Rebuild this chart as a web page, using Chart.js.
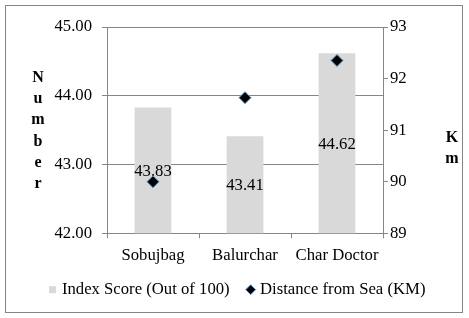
<!DOCTYPE html>
<html>
<head>
<meta charset="utf-8">
<script src="https://cdn.jsdelivr.net/npm/chart.js@4"></script>
<style>
  html, body { margin: 0; padding: 0; background: #fff; }
  #wrap { width: 469px; height: 318px; }
</style>
</head>
<body>
<div id="wrap"><canvas id="chart" width="469" height="318"></canvas></div>
<script>
const places = ["Sobujbag", "Balurchar", "Char Doctor"];
const indexScore = [43.83, 43.41, 44.62];
const seaDistance = [90.0, 91.63, 92.35];
const leftTitle = ["N", "u", "m", "b", "e", "r"];
const rightTitle = ["K", "m"];

const FONT = "'Liberation Serif', 'Times New Roman', serif";
const FS = 16.7;
const GRID = "#868686";

// frame + axis titles drawn as stacked letters
const decor = {
  id: "decor",
  afterLayout(chart) {
    // x labels get clipped to the axis box, give descenders some room
    chart.scales.x.bottom += 12;
  },
  beforeDraw(chart) {
    const c = chart.ctx;
    c.save();
    c.fillStyle = "#fff";
    c.fillRect(0, 0, chart.width, chart.height);
    c.strokeStyle = GRID;
    c.lineWidth = 1;
    c.strokeRect(5.5, 5.5, 457, 307);
    c.restore();
  },
  afterDraw(chart) {
    const c = chart.ctx;
    c.save();
    c.font = "bold 16px " + FONT;
    c.fillStyle = "#000";
    c.textAlign = "center";
    c.textBaseline = "alphabetic";
    leftTitle.forEach((ch, i) => c.fillText(ch, 38, 82 + i * 21.2));
    rightTitle.forEach((ch, i) => c.fillText(ch, 452, 142 + i * 20.5));
    c.restore();
  },
};

// value labels in the middle of each bar, under the diamonds
const barLabels = {
  id: "barLabels",
  beforeDatasetDraw(chart, args) {
    if (args.index !== 1) return;
    const xs = chart.scales.x, ys = chart.scales.y;
    const c = chart.ctx;
    c.save();
    c.font = FS + "px " + FONT;
    c.fillStyle = "#000";
    c.textAlign = "center";
    c.textBaseline = "middle";
    indexScore.forEach((v, i) => {
      const top = ys.getPixelForValue(v);
      const base = ys.getPixelForValue(ys.min);
      c.fillText(v.toFixed(2), xs.getPixelForValue(i), (top + base) / 2 + 1);
    });
    c.restore();
  },
};

new Chart(document.getElementById("chart"), {
  type: "bar",
  data: {
    labels: places,
    datasets: [
      {
        label: "Index Score (Out of 100)",
        data: indexScore,
        backgroundColor: "#d9d9d9",
        borderWidth: 0,
        pointStyle: "rect",
        categoryPercentage: 1,
        barPercentage: 0.4,
        yAxisID: "y",
        order: 1,
      },
      {
        type: "line",
        label: "Distance from Sea (KM)",
        data: seaDistance,
        showLine: false,
        pointStyle: "rectRot",
        pointRadius: 6,
        pointHoverRadius: 6,
        backgroundColor: "#000",
        borderColor: "#5b9bd5",
        pointBorderWidth: 1,
        yAxisID: "y1",
        order: 0,
      },
    ],
  },
  options: {
    responsive: false,
    animation: false,
    events: [],
    layout: { padding: { top: 27, left: 8, right: 0, bottom: 10 } },
    plugins: {
      tooltip: { enabled: false },
      legend: {
        position: "bottom",
        labels: {
          usePointStyle: true,
          boxWidth: 2,
          boxHeight: 7,
          padding: 20,
          color: "#000",
          font: { family: FONT, size: FS, lineHeight: 1 },
          sort: (a, b) => a.datasetIndex - b.datasetIndex,
        },
      },
    },
    scales: {
      x: {
        offset: true,
        grid: { offset: true, drawOnChartArea: false, tickLength: 5, color: GRID },
        border: { color: GRID },
        ticks: { color: "#000", padding: 7, font: { family: FONT, size: FS } },
        afterFit(s) { s.height = 28; },
      },
      y: {
        position: "left",
        min: 42,
        max: 45,
        grid: { color: GRID, tickLength: 5 },
        border: { color: GRID },
        ticks: {
          stepSize: 1,
          padding: 10,
          color: "#000",
          font: { family: FONT, size: FS },
          callback: (v) => v.toFixed(2),
        },
        afterFit(s) { s.width = 99; },
      },
      y1: {
        position: "right",
        min: 89,
        max: 93,
        grid: { drawOnChartArea: false, color: GRID, tickLength: 5 },
        border: { color: GRID },
        ticks: { stepSize: 1, padding: 2, color: "#000", font: { family: FONT, size: FS } },
        afterFit(s) { s.width = 86; },
      },
    },
  },
  plugins: [decor, barLabels],
});
</script>
</body>
</html>
